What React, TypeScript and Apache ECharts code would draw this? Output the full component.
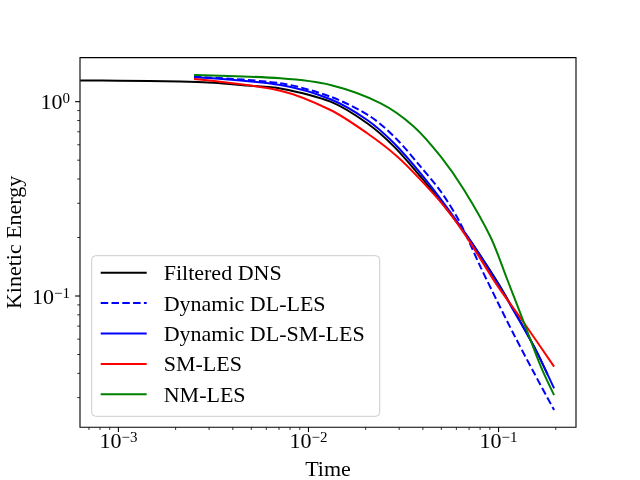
import React, { useEffect, useRef } from 'react';
import * as echarts from 'echarts';

const FONT = '"Liberation Serif", "Times New Roman", serif';

const seriesNames = ['Filtered DNS', 'Dynamic DL-LES', 'Dynamic DL-SM-LES', 'SM-LES', 'NM-LES'];
const seriesColors = ['#000000', '#0000ff', '#0000ff', '#ff0000', '#008000'];

// [time, kinetic energy]
const filteredDNS: [number, number][] = [
  [0.00063, 1.285], [0.001, 1.282], [0.00211, 1.27], [0.00317, 1.25], [0.00475, 1.21],
  [0.00711, 1.17], [0.01306, 1.0], [0.02037, 0.774], [0.0282, 0.587], [0.0389, 0.411],
  [0.0516, 0.292], [0.0687, 0.202], [0.0987, 0.118], [0.131, 0.073], [0.16, 0.051], [0.181, 0.0395],
];
const dynamicDLLES: [number, number][] = [
  [0.0025, 1.345], [0.00711, 1.244], [0.01306, 1.061], [0.02125, 0.837], [0.0294, 0.635],
  [0.0389, 0.463], [0.0497, 0.345], [0.0625, 0.24], [0.0807, 0.14], [0.0987, 0.0935],
  [0.1208, 0.063], [0.1542, 0.04], [0.196, 0.0259],
];
const dynamicDLSMLES: [number, number][] = [
  [0.0025, 1.335], [0.00711, 1.219], [0.01306, 1.029], [0.02037, 0.805], [0.0282, 0.611],
  [0.0389, 0.428], [0.0516, 0.3], [0.0687, 0.202], [0.0987, 0.1162], [0.1312, 0.0724],
  [0.1603, 0.0507], [0.196, 0.0335],
];
const smLES: [number, number][] = [
  [0.0025, 1.309], [0.00711, 1.139], [0.01306, 0.906], [0.02037, 0.688], [0.0294, 0.521],
  [0.0405, 0.38], [0.0538, 0.277], [0.0687, 0.198], [0.0968, 0.1162], [0.1365, 0.0724],
  [0.196, 0.0433],
];
const nmLES: [number, number][] = [
  [0.0025, 1.372], [0.00711, 1.319], [0.01306, 1.219], [0.024, 0.981], [0.0359, 0.744],
  [0.0497, 0.521], [0.0659, 0.351], [0.091, 0.2], [0.1114, 0.1209], [0.1365, 0.0724],
  [0.167, 0.0433], [0.196, 0.0309],
];
const seriesData = [filteredDNS, dynamicDLLES, dynamicDLSMLES, smLES, nmLES];
const seriesDashed = [false, true, false, false, false];

const xRange = [0.000628, 0.2556];
const yRange = [0.02113, 1.686];

const xMajorTicks = [0.001, 0.01, 0.1];
const xMinorTicks = [
  0.0007, 0.0008, 0.0009,
  0.002, 0.003, 0.004, 0.005, 0.006, 0.007, 0.008, 0.009,
  0.02, 0.03, 0.04, 0.05, 0.06, 0.07, 0.08, 0.09,
  0.2,
];
const yMajorTicks = [0.1, 1];
const yMinorTicks = [0.03, 0.04, 0.05, 0.06, 0.07, 0.08, 0.09, 0.2, 0.3, 0.4, 0.5, 0.6, 0.7, 0.8, 0.9];

export default function App() {
  const ref = useRef<HTMLDivElement>(null);
  useEffect(() => {
    const chart = echarts.init(ref.current!, null, { renderer: 'svg' });
    const fmt = (v: number) => {
      const e = Math.round(Math.log10(v));
      return `{b|10}{s|${e < 0 ? '\u2212' + -e : e}}`;
    };
    const richX = {
      b: { fontFamily: FONT, fontSize: 22, lineHeight: 22, color: '#000', verticalAlign: 'bottom', padding: [4, 0, 0, 0] },
      s: { fontFamily: FONT, fontSize: 15, lineHeight: 15, color: '#000', verticalAlign: 'top' },
    };
    const richY = {
      b: { fontFamily: FONT, fontSize: 22, lineHeight: 22, color: '#000', verticalAlign: 'bottom', padding: [6, 0, 0, 0] },
      s: { fontFamily: FONT, fontSize: 15, lineHeight: 15, color: '#000', verticalAlign: 'top' },
    };
    const tickData: number[][] = [
      ...xMajorTicks.map((v) => [v, yRange[0], 4.9, 0, 1.1]),
      ...xMinorTicks.map((v) => [v, yRange[0], 2.8, 0, 0.8]),
      ...yMajorTicks.map((v) => [xRange[0], v, 4.9, 1, 1.1]),
      ...yMinorTicks.map((v) => [xRange[0], v, 2.8, 1, 0.8]),
    ];
    const lineSeries = seriesNames.map((name, i) => ({
      name,
      type: 'line',
      data: seriesData[i],
      showSymbol: false,
      symbol: 'none',
      smooth: 0.3,
      color: seriesColors[i],
      lineStyle: { color: seriesColors[i], width: 2, type: seriesDashed[i] ? [7.5, 3.3] : 'solid' },
      z: 2 + i,
    }));
    chart.setOption({
      animation: false,
      grid: {
        left: 80, right: 64, top: 57.6, bottom: 52.8,
        outerBoundsMode: 'none',
        containLabel: false,
        show: true, borderColor: '#000', borderWidth: 1.1, backgroundColor: 'transparent',
      },
      legend: {
        data: seriesNames,
        orient: 'vertical',
        left: 91.7,
        top: 255.7,
        itemWidth: 46,
        itemHeight: 14,
        itemGap: 8.4,
        padding: [6, 15, 11, 8],
        backgroundColor: 'rgba(255,255,255,0.8)',
        borderColor: '#cccccc',
        borderWidth: 1,
        borderRadius: 4,
        itemStyle: { opacity: 0 },
        textStyle: { fontFamily: FONT, fontSize: 22, lineHeight: 20, color: '#000', padding: [0, 0, 0, 12] },
        selectedMode: false,
      },
      xAxis: {
        type: 'log',
        logBase: 10,
        min: xRange[0],
        max: xRange[1],
        axisLine: { show: false },
        axisTick: { show: false },
        splitLine: { show: false },
        axisLabel: { formatter: fmt, rich: richX, margin: 2, showMinLabel: false, showMaxLabel: false },
        name: 'Time',
        nameLocation: 'middle',
        nameGap: 30,
        nameMoveOverlap: false,
        nameTextStyle: { fontFamily: FONT, fontSize: 22, color: '#000' },
      },
      yAxis: {
        type: 'log',
        logBase: 10,
        min: yRange[0],
        max: yRange[1],
        axisLine: { show: false },
        axisTick: { show: false },
        splitLine: { show: false },
        axisLabel: { formatter: fmt, rich: richY, margin: 10, showMinLabel: false, showMaxLabel: false },
        name: 'Kinetic Energy',
        nameLocation: 'middle',
        nameRotate: 90,
        nameGap: 56,
        nameMoveOverlap: false,
        nameTextStyle: { fontFamily: FONT, fontSize: 22, lineHeight: 22, color: '#000' },
      },
      series: [
        ...lineSeries,
        {
          type: 'custom',
          silent: true,
          clip: false,
          z: 10,
          data: tickData,
          encode: { x: 0, y: 1 },
          renderItem: (_p: any, api: any) => {
            const pt = api.coord([api.value(0), api.value(1)]);
            const len = api.value(2);
            const dir = api.value(3);
            const w = api.value(4);
            return {
              type: 'line',
              shape: dir === 0
                ? { x1: pt[0], y1: pt[1], x2: pt[0], y2: pt[1] + len }
                : { x1: pt[0], y1: pt[1], x2: pt[0] - len, y2: pt[1] },
              style: { stroke: '#000', lineWidth: w },
            };
          },
        },
      ],
    });
    return () => chart.dispose();
  }, []);
  return <div ref={ref} style={{ position: 'fixed', left: 0, top: 0, width: 640, height: 480 }} />;
}
